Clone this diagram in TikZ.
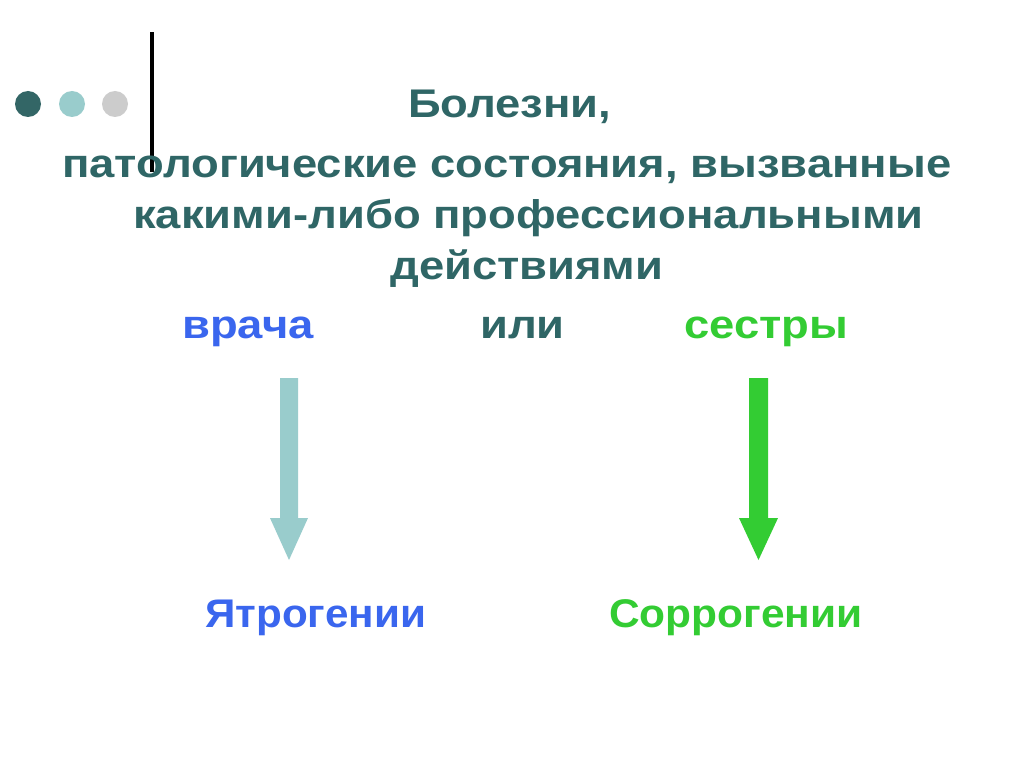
\documentclass[tikz,border=0pt]{standalone}
\usepackage{fontspec}
\setmainfont[FakeStretch=1.135]{Liberation Sans}
\definecolor{tealtext}{HTML}{2F6666}
\definecolor{tealdark}{HTML}{336666}
\definecolor{teallight}{HTML}{99CCCC}
\definecolor{dotgrey}{HTML}{CCCCCC}
\definecolor{bluetext}{HTML}{3A66EE}
\definecolor{greentext}{HTML}{33CC33}
\begin{document}
\begin{tikzpicture}[x=1pt,y=-1pt,
  txt/.style={inner sep=0pt, anchor=base west, font=\fontsize{40}{48}\selectfont\bfseries},
  dot/.style={circle, inner sep=0pt, minimum size=26pt}]
\useasboundingbox[fill=white] (0,0) rectangle (1024,767);
\node[dot, fill=tealdark] (d1) at (28,104) {};
\node[dot, fill=teallight] (d2) at (72,104) {};
\node[dot, fill=dotgrey] (d3) at (115,104) {};
\fill[black] (150,32) rectangle (154,172);
\node[txt, text=tealtext] (l1) at (408,118) {Болезни,};
\node[txt, text=tealtext] (l2) at (62,178) {патологические состояния, вызванные};
\node[txt, text=tealtext] (l3) at (133,229) {какими-либо профессиональными};
\node[txt, text=tealtext] (l4) at (390,279) {действиями};
\node[txt, text=bluetext] (vr) at (182,338) {врача};
\node[txt, text=tealtext] (ili) at (480,338) {или};
\node[txt, text=greentext] (ses) at (684,338) {сестры};
\node[txt, text=bluetext] (ya) at (205,627) {\scalebox{0.93}[1]{Ятрогении}};
\node[txt, text=greentext] (so) at (609,627) {\scalebox{0.935}[1]{Соррогении}};
\fill[teallight] (280,378) -- (298,378) -- (298,518) -- (308,518) -- (289,560) -- (270,518) -- (280,518) -- cycle;
\fill[greentext] (749,378) -- (768,378) -- (768,518) -- (778,518) -- (758.5,560) -- (739,518) -- (749,518) -- cycle;
\end{tikzpicture}
\end{document}
